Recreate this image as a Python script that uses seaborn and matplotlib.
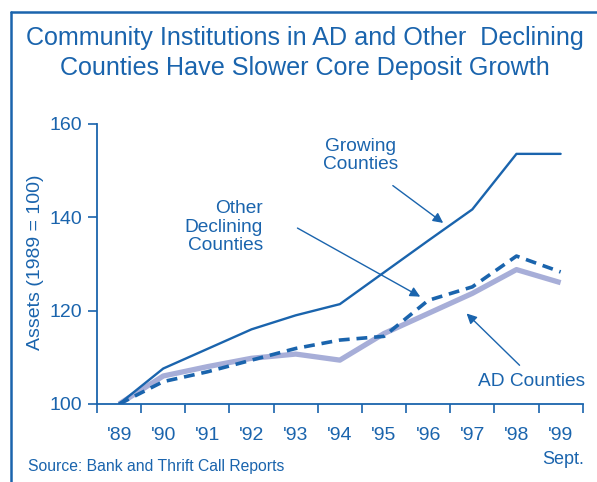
import numpy as np
import pandas as pd
import matplotlib
matplotlib.use("Agg")
import matplotlib.pyplot as plt
from matplotlib.lines import Line2D
import seaborn as sns

years = ["'89", "'90", "'91", "'92", "'93", "'94", "'95", "'96", "'97", "'98", "'99"]
growing = [100, 107.6, 111.8, 116.0, 119.0, 121.4, 128.2, 135.0, 141.7, 153.6, 153.6]
other_declining = [100, 104.8, 106.9, 109.4, 111.9, 113.7, 114.5, 122.2, 125.1, 131.7, 128.3]
ad_counties = [100, 106.0, 108.0, 109.8, 110.7, 109.4, 115.1, 119.4, 123.7, 128.8, 126.0]
yticks = [100, 120, 140, 160]

BLUE = "#1a64ad"
LAV = "#a7aed8"

sns.set_theme(style="white")
plt.rcParams['font.family'] = ['Liberation Sans', 'DejaVu Sans']

W, H = 597, 482
fig = plt.figure(figsize=(W / 100, H / 100), dpi=100)
ax = fig.add_axes([97 / W, 1 - 404 / H, (582.7 - 97) / W, (404 - 124) / H])

x = np.arange(len(years))
df = pd.DataFrame({"x": x, "growing": growing, "other": other_declining, "ad": ad_counties})

sns.lineplot(data=df, x="x", y="ad", ax=ax, color=LAV, lw=3.8, solid_capstyle="butt")
sns.lineplot(data=df, x="x", y="other", ax=ax, color=BLUE, lw=2.6, dashes=False,
             linestyle=(0, (3.0, 1.9)))
sns.lineplot(data=df, x="x", y="growing", ax=ax, color=BLUE, lw=1.7)

ax.set_xlim(-0.5, len(years) - 0.5)
ax.set_ylim(100, 160)
ax.set_xlabel("")
ax.set_ylabel("")

# ticks: major at boundaries, labels on minor at centers
ax.set_xticks(np.arange(-0.5, len(years), 1.0))
ax.set_xticklabels([])
ax.set_xticks(x, minor=True)
ax.set_xticklabels(years, minor=True)
ax.tick_params(axis="x", which="major", direction="out", length=6.5, width=1.2,
               color=BLUE, bottom=True)
ax.tick_params(axis="x", which="minor", length=0, pad=16.5, labelsize=14,
               labelcolor=BLUE, bottom=True)
ax.set_yticks(yticks)
ax.set_yticklabels([str(v) for v in yticks])
ax.tick_params(axis="y", direction="out", length=6.5, width=1.2, color=BLUE,
               pad=4, labelsize=14, labelcolor=BLUE, left=True)

for s in ["top", "right"]:
    ax.spines[s].set_visible(False)
for s in ["left", "bottom"]:
    ax.spines[s].set_color(BLUE)
    ax.spines[s].set_linewidth(1.3)
ax.grid(False)
ax.set_facecolor("none")

# annotations
akw = dict(arrowstyle="-|>", color=BLUE, lw=1.0, mutation_scale=15,
           shrinkA=0, shrinkB=0)
ax.annotate("Growing\nCounties", xy=(7.34, 138.8), xytext=(5.46, 153.3),
            ha="center", va="center", fontsize=13.8, color=BLUE, linespacing=1.1)
ax.annotate("", xy=(7.34, 138.8), xytext=(6.20, 146.8), arrowprops=akw)
ax.annotate("Other\nDeclining\nCounties", xy=(6.82, 123.0), xytext=(3.26, 137.9),
            ha="right", va="center", fontsize=13.8, color=BLUE, linespacing=1.1)
ax.annotate("", xy=(6.82, 123.0), xytext=(4.04, 137.7), arrowprops=akw)
ax.annotate("AD Counties", xy=(7.87, 119.4), xytext=(9.35, 104.8),
            ha="center", va="center", fontsize=13.8, color=BLUE)
ax.annotate("", xy=(7.87, 119.4), xytext=(9.07, 108.3), arrowprops=akw)


def fx(px):
    return px / W


def fy(py):
    return 1 - py / H


fig.text(fx(305), fy(38), "Community Institutions in AD and Other  Declining",
         ha="center", va="center", fontsize=18.1, color=BLUE)
fig.text(fx(305), fy(68), "Counties Have Slower Core Deposit Growth",
         ha="center", va="center", fontsize=18.1, color=BLUE)
fig.text(fx(36), fy(262), "Assets (1989 = 100)", rotation=90, ha="center",
         va="center", fontsize=14, color=BLUE)
fig.text(fx(28), fy(466), "Source: Bank and Thrift Call Reports", ha="left",
         va="center", fontsize=11.3, color=BLUE)
fig.text(fx(563), fy(459), "Sept.", ha="center", va="center", fontsize=13,
         color=BLUE)

# frame lines
fig.add_artist(Line2D([fx(10.5), fx(10.5)], [fy(12), fy(482)], color=BLUE, lw=1.8))
fig.add_artist(Line2D([fx(10.5), fx(597)], [fy(12), fy(12)], color=BLUE, lw=1.8))

fig.savefig("out.png", dpi=100)
